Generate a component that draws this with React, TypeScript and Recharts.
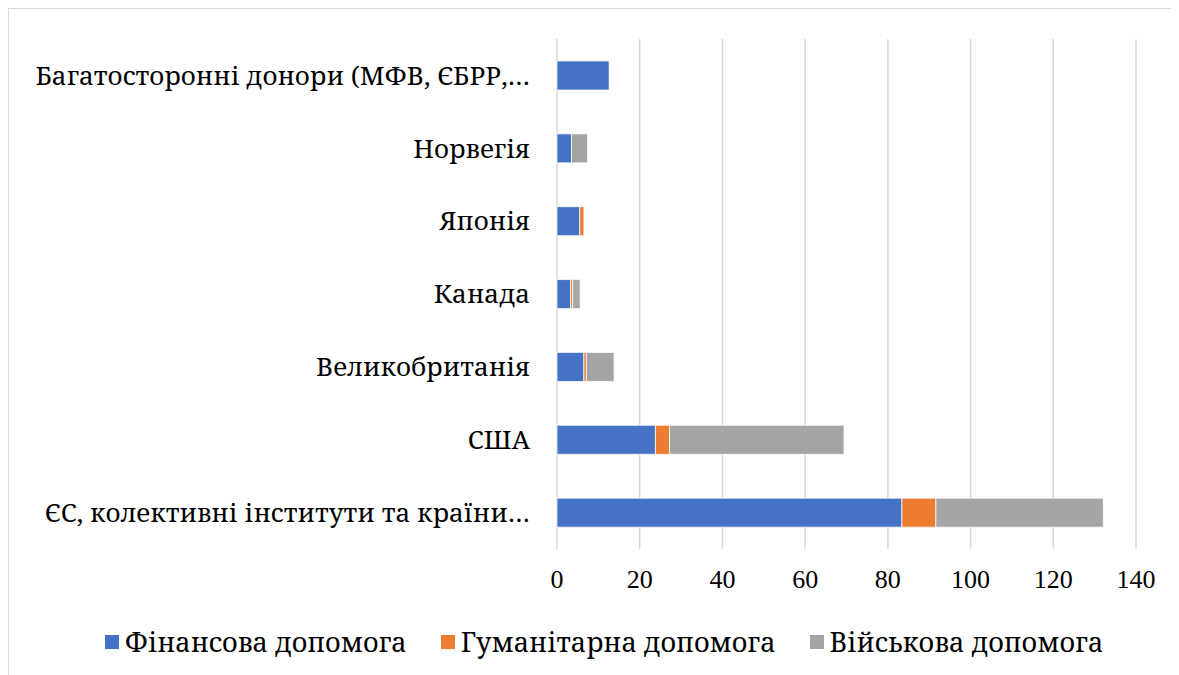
import React from 'react';
import { BarChart, Bar, XAxis, YAxis, CartesianGrid, Legend } from 'recharts';

const categories = [
  'Багатосторонні донори (МФВ, ЄБРР,…',
  'Норвегія',
  'Японія',
  'Канада',
  'Великобританія',
  'США',
  'ЄС, колективні інститути та країни…',
];
const financial = [12.6, 3.5, 5.5, 3.3, 6.5, 23.8, 83.4];
const humanitarian = [0, 0, 1.0, 0.5, 0.6, 3.4, 8.2];
const military = [0, 3.9, 0, 1.8, 6.7, 42.2, 40.5];
const xTicks = [0, 20, 40, 60, 80, 100, 120, 140];

const series = [
  { key: 'fin', name: 'Фінансова допомога', color: '#4472C4' },
  { key: 'hum', name: 'Гуманітарна допомога', color: '#ED7D31' },
  { key: 'mil', name: 'Військова допомога', color: '#A5A5A5' },
];

const data = categories.map((name, i) => ({
  name,
  fin: financial[i],
  hum: humanitarian[i],
  mil: military[i],
}));

// Liberation Serif has no usable Cyrillic here, so Cyrillic text uses Noto Serif
const CYR_FONT = "'Noto Serif', 'DejaVu Serif', serif";
const NUM_FONT = "'Liberation Serif', serif";

const renderLegend = () => (
  <div
    style={{
      display: 'flex',
      justifyContent: 'center',
      gap: 34,
      fontFamily: CYR_FONT,
      fontSize: 27,
      color: '#000',
      paddingLeft: 20,
      lineHeight: '30px',
    }}
  >
    {series.map((s) => (
      <div key={s.key} style={{ display: 'flex', alignItems: 'center' }}>
        <span
          style={{
            display: 'inline-block',
            width: 14,
            height: 14,
            background: s.color,
            marginRight: 6,
          }}
        />
        <span>{s.name}</span>
      </div>
    ))}
  </div>
);

export default function App() {
  return (
    <div
      style={{
        width: 1171,
        height: 667,
        borderTop: '1px solid #d9d9d9',
        borderLeft: '1px solid #d9d9d9',
        background: '#fff',
      }}
    >
      <BarChart
        width={1170}
        height={666}
        data={data}
        layout="vertical"
        barSize={29}
        margin={{ top: 30, right: 43, bottom: 36, left: 0 }}
      >
        <CartesianGrid horizontal={false} stroke="#d9d9d9" strokeWidth={1.5} />
        <XAxis
          type="number"
          domain={[0, 140]}
          ticks={xTicks}
          axisLine={false}
          tickLine={false}
          tickMargin={15}
          tick={{ fontFamily: NUM_FONT, fontSize: 26, fill: '#000' }}
          height={60}
        />
        <YAxis
          type="category"
          dataKey="name"
          width={548}
          axisLine={false}
          tickLine={false}
          tickMargin={21}
          interval={0}
          tick={{ fontFamily: CYR_FONT, fontSize: 26, fill: '#000' }}
        />
        <Legend
          verticalAlign="bottom"
          content={renderLegend}
          wrapperStyle={{ top: 618, left: 0, width: 1170, height: 30 }}
        />
        {series.map((s) => (
          <Bar
            key={s.key}
            dataKey={s.key}
            name={s.name}
            stackId="a"
            fill={s.color}
            stroke="#ffffff"
            strokeWidth={0.75}
            isAnimationActive={false}
          />
        ))}
      </BarChart>
    </div>
  );
}
